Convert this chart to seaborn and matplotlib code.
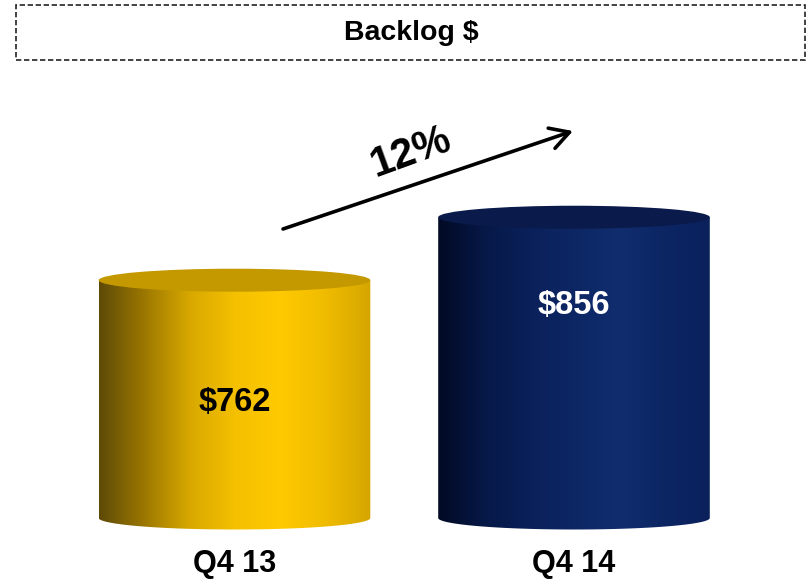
import numpy as np
import pandas as pd
import matplotlib
matplotlib.use("Agg")
import matplotlib.pyplot as plt
import seaborn as sns
from matplotlib.colors import LinearSegmentedColormap
from matplotlib.patches import Ellipse, Rectangle
from matplotlib.path import Path

# Data
quarters = ["Q4 13", "Q4 14"]
backlog = [762, 856]
value_labels = ["$762", "$856"]
growth_label = "12%"
title = "Backlog $"

# Styling
side_colors = [
    ["#5e4a08", "#9c7800", "#d8a800", "#f4c000", "#ffca00", "#f0bc00", "#d4a600"],
    ["#020a24", "#061846", "#0a205a", "#0d2764", "#112d6e", "#0c2664", "#0a215c"],
]
top_colors = ["#c49900", "#0a1a4a"]
label_colors = ["black", "white"]
label_y = [580, 724]
base_value = 407          # value at the visible foot of the cylinders
y_top = 1031

sns.set_theme(style="white")
plt.rcParams["font.family"] = ["Liberation Sans", "DejaVu Sans"]

W, H = 808, 580
fig = plt.figure(figsize=(W / 100, H / 100), dpi=100)
ax = fig.add_axes([64.75 / W, (H - 518) / H, 679 / W, 418 / H])

df = pd.DataFrame({"quarter": quarters, "backlog": backlog})
sns.barplot(data=df, x="quarter", y="backlog", width=0.8, color="white", ax=ax)

ax.set_xlim(-0.5, 1.5)
ax.set_ylim(base_value, y_top)
sns.despine(ax=ax, left=True, bottom=True, top=True, right=True)
ax.set_yticks([])
ax.set_xlabel("")
ax.set_ylabel("")
ax.tick_params(axis="x", length=0, pad=22)
for t in ax.get_xticklabels():
    t.set_fontsize(22)
    t.set_fontweight("bold")
    t.set_color("black")

ax_h_px = 418
units_per_px = (y_top - base_value) / ax_h_px
eh = 11.5 * units_per_px      # half-height of the cylinder ellipses

for i, p in enumerate(ax.patches):
    p.set_visible(False)
    x0 = p.get_x()
    w = p.get_width()
    x1 = x0 + w
    xc = x0 + w / 2
    v = p.get_height()

    # side body with rounded foot
    t = np.linspace(np.pi, 2 * np.pi, 80)
    verts = [(x0, v), (x0, base_value)]
    verts += [(xc + w / 2 * np.cos(a), base_value + eh * np.sin(a)) for a in t]
    verts += [(x1, v), (x0, v)]
    codes = [Path.MOVETO] + [Path.LINETO] * (len(verts) - 2) + [Path.CLOSEPOLY]
    body = Path(verts, codes)

    cmap = LinearSegmentedColormap.from_list(f"side{i}", side_colors[i])
    grad = np.linspace(0, 1, 512)[None, :]
    im = ax.imshow(grad, cmap=cmap, aspect="auto", interpolation="bicubic",
                   extent=(x0, x1, base_value - eh - 1, v), zorder=2)
    im.set_clip_path(body, ax.transData)
    im.set_clip_box(fig.bbox)

    top = Ellipse((xc, v), w, 2 * eh, facecolor=top_colors[i], edgecolor="none",
                  zorder=3, clip_on=False)
    ax.add_patch(top)

    ax.text(xc, label_y[i], value_labels[i], ha="center", va="center",
            fontsize=23.5, fontweight="bold", color=label_colors[i], zorder=4)

ax.set_xlim(-0.5, 1.5)
ax.set_ylim(base_value, y_top)

# growth arrow and label
ax.annotate("", xy=(573, H - 131), xytext=(283, H - 229),
            xycoords="figure pixels", textcoords="figure pixels",
            arrowprops=dict(arrowstyle="->,head_length=0.8,head_width=0.45",
                            lw=2.6, color="black", mutation_scale=17,
                            shrinkA=0, shrinkB=0))
fig.text(411 / W, 1 - 152 / H, growth_label, rotation=20, rotation_mode="anchor",
         ha="center", va="center", fontsize=30, fontweight="bold", color="black")

# title box
fig.add_artist(Rectangle((16 / W, 1 - 60 / H), (805 - 16) / W, 55 / H,
                         transform=fig.transFigure, fill=False,
                         linestyle=(0, (3.2, 1.6)), linewidth=1.2,
                         edgecolor="#222222"))
fig.text(411 / W, 1 - 33 / H, title, ha="center", va="center",
         fontsize=20.5, fontweight="bold", color="black")

fig.savefig("out.png", dpi=100)
